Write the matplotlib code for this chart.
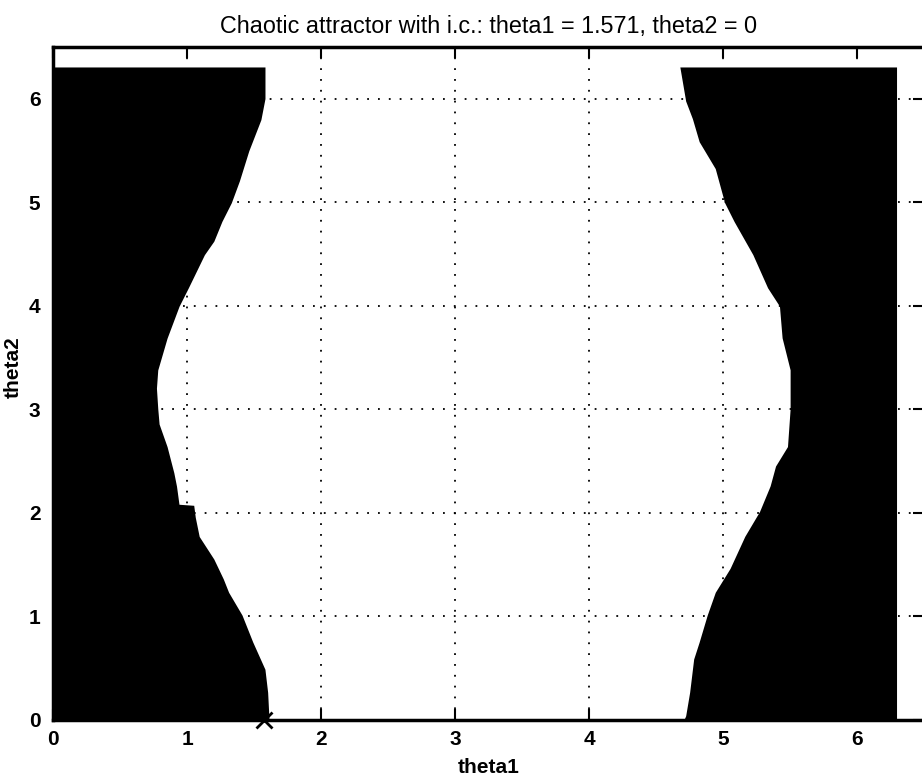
import matplotlib
matplotlib.use('Agg')
import matplotlib.pyplot as plt

plt.rcParams['font.family'] = ['Liberation Sans', 'DejaVu Sans']

# Boundaries of the two dark bands
# left band: right-hand edge theta1 for each theta2
left_theta2 = [0.0, 0.26, 0.48, 0.74, 1.0, 1.22, 1.35, 1.54, 1.76, 1.95, 2.05, 2.06,
               2.25, 2.38, 2.63, 2.85, 3.0, 3.2, 3.38, 3.69, 4.0, 4.18, 4.5, 4.63,
               4.82, 5.0, 5.21, 5.5, 5.8, 6.0, 6.283]
left_theta1 = [1.60, 1.59, 1.57, 1.48, 1.40, 1.30, 1.26, 1.19, 1.08, 1.05, 1.04, 0.93,
               0.91, 0.89, 0.84, 0.78, 0.77, 0.76, 0.77, 0.84, 0.93, 1.0, 1.12, 1.19,
               1.25, 1.32, 1.38, 1.45, 1.54, 1.57, 1.57]

# right band: left-hand edge theta1 for each theta2
right_theta2 = [0.0, 0.03, 0.26, 0.58, 0.74, 1.0, 1.22, 1.45, 1.76, 2.0, 2.25, 2.44,
                2.63, 3.0, 3.38, 3.69, 4.0, 4.18, 4.5, 4.82, 5.0, 5.33, 5.59, 5.81,
                5.98, 6.283]
right_theta1 = [4.73, 4.74, 4.77, 4.80, 4.84, 4.90, 4.96, 5.07, 5.18, 5.29, 5.37, 5.41,
                5.50, 5.52, 5.52, 5.46, 5.44, 5.35, 5.24, 5.10, 5.03, 4.96, 4.84, 4.79,
                4.74, 4.70]

theta_max = 6.283
ic_theta1 = 1.571
ic_theta2 = 0.0

fig = plt.figure(figsize=(9.22, 7.77), dpi=100)
ax = fig.add_axes([0.0575, 0.0734, 0.9447, 0.866])

# left band
xs = [0.0] + left_theta1 + [0.0]
ys = [0.0] + left_theta2 + [theta_max]
ax.fill(xs, ys, color='black', edgecolor='black', linewidth=3, zorder=2)

# right band
xs = [theta_max] + right_theta1 + [theta_max]
ys = [0.0] + right_theta2 + [theta_max]
ax.fill(xs, ys, color='black', edgecolor='black', linewidth=3, zorder=2)

# initial condition
ax.plot([ic_theta1], [ic_theta2], marker='x', color='black', markersize=11,
        markeredgewidth=2, zorder=3, clip_on=False)

ax.set_xlim(0, 6.5)
ax.set_ylim(0, 6.5)
ax.set_xticks(range(0, 7))
ax.set_yticks(range(0, 7))
ax.grid(True, color='black', linestyle=(0, (1, 5)), linewidth=1.3)
ax.set_axisbelow(True)

ax.tick_params(direction='in', length=8, width=1.5, top=True, right=True,
               labelsize=15)
ax.tick_params(axis='x', pad=7)
ax.tick_params(axis='y', pad=9)
for lbl in ax.get_xticklabels() + ax.get_yticklabels():
    lbl.set_fontweight('bold')
for s in ax.spines.values():
    s.set_linewidth(2.5)

ax.set_title('Chaotic attractor with i.c.: theta1 = 1.571, theta2 = 0',
             fontsize=16.8, pad=10)
ax.set_xlabel('theta1', fontsize=15, fontweight='bold')
ax.set_ylabel('theta2', fontsize=15, fontweight='bold')
ax.xaxis.set_label_coords(0.5, -0.0565)
ax.yaxis.set_label_coords(-0.0344, 0.5245)

plt.savefig('out.png', dpi=100)
